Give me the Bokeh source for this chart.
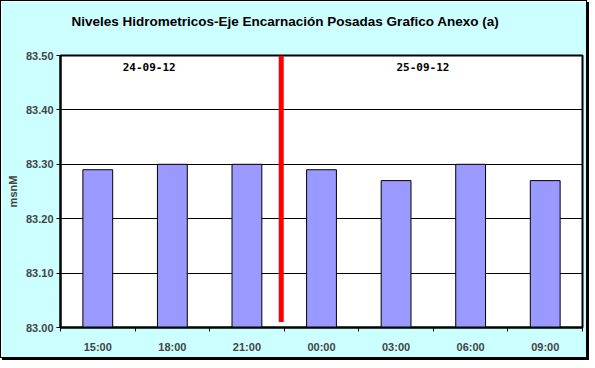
from bokeh.plotting import figure
from bokeh.models import FixedTicker, NumeralTickFormatter, Label, Range1d, Title
from bokeh.embed import file_html
from bokeh.resources import INLINE

# ---- data ----
categories = ["15:00", "18:00", "21:00", "00:00", "03:00", "06:00", "09:00"]
levels = [83.29, 83.30, 83.30, 83.29, 83.27, 83.30, 83.27]
y_ticks = [83.00, 83.10, 83.20, 83.30, 83.40, 83.50]
day_labels = ["24-09-12", "25-09-12"]
day_change_index = 3   # boundary between 21:00 and 00:00

n = len(categories)
xc = [i + 0.5 for i in range(n)]

p = figure(width=587, height=358, output_backend="svg", toolbar_location=None,
           x_range=Range1d(0, n), y_range=Range1d(83.0, 83.5),
           min_border_left=59, min_border_right=6, min_border_top=54, min_border_bottom=32,
           background_fill_color="white", border_fill_color="#CCFFFF")
p.styles = {"border": "1px solid black", "box-shadow": "2px 2px 0 black"}

p.title.text = "Niveles Hidrometricos-Eje Encarnación Posadas Grafico Anexo (a)"
p.title.text_font = "Liberation Sans"
p.title.text_font_size = "13.5px"
p.title.text_font_style = "bold"
p.title.align = "left"
p.title.offset = 11
p.title.standoff = 4
p.title.text_color = "black"

# spacer between title and plot area
spacer = Title(text=" ", text_font_size="10px", standoff=12)
p.add_layout(spacer, "above")

p.outline_line_color = "black"
p.outline_line_width = 2

p.vbar(x=xc, top=levels, bottom=83.0, width=0.4, fill_color="#9999FF", line_color="black", line_width=1)

# red divider between the two days
p.segment(x0=[day_change_index - 0.04], x1=[day_change_index - 0.04], y0=[83.01], y1=[83.5],
          line_color="#FF0000", line_width=5)

for txt, xx in zip(day_labels, [1.19, 4.86]):
    p.add_layout(Label(x=xx, y=83.479, text=txt, text_align="center", text_baseline="middle",
                       text_font="DejaVu Sans Mono", text_font_size="11px", text_font_style="bold",
                       text_color="black"))

# y axis
p.yaxis.ticker = FixedTicker(ticks=y_ticks)
p.yaxis.formatter = NumeralTickFormatter(format="0.00")
p.yaxis.axis_label = "msnM"
p.yaxis.axis_label_text_font = "Liberation Sans"
p.yaxis.axis_label_text_font_size = "11px"
p.yaxis.axis_label_text_font_style = "bold"
p.yaxis.axis_label_standoff = 4
p.yaxis.major_label_text_font = "Liberation Sans"
p.yaxis.major_label_text_font_size = "11px"
p.yaxis.major_label_text_font_style = "bold"
p.yaxis.major_label_standoff = 3
p.yaxis.major_tick_out = 4
p.yaxis.major_tick_in = 0
p.yaxis.minor_tick_line_color = None
p.yaxis.axis_line_width = 2
p.yaxis.major_tick_line_width = 1

# x axis
p.xaxis.ticker = FixedTicker(ticks=xc, minor_ticks=list(range(n + 1)))
p.xaxis.major_label_overrides = {x: c for x, c in zip(xc, categories)}
p.xaxis.major_label_text_font = "Liberation Sans"
p.xaxis.major_label_text_font_size = "11px"
p.xaxis.major_label_text_font_style = "bold"
p.xaxis.major_tick_out = 0
p.xaxis.major_tick_in = 0
p.xaxis.minor_tick_out = 4
p.xaxis.minor_tick_in = 0
p.xaxis.minor_tick_line_color = "black"
p.xaxis.major_label_standoff = 9
p.xaxis.axis_line_width = 2

p.xgrid.grid_line_color = None
p.ygrid.ticker = FixedTicker(ticks=y_ticks)
p.ygrid.grid_line_color = "black"
p.ygrid.grid_line_width = 1

open("out.html", "w").write(file_html(p, INLINE))
